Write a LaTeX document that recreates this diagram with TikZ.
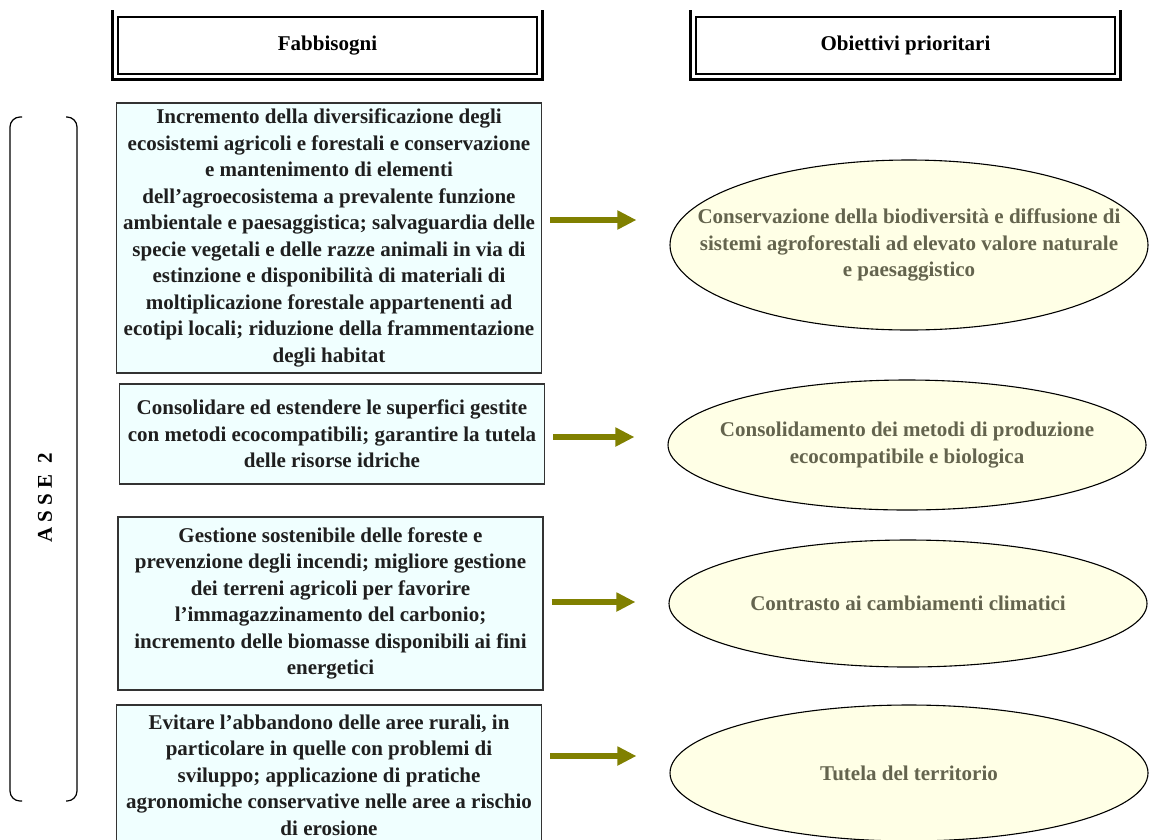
\documentclass[tikz,border=0pt]{standalone}
\usepackage{fontspec}
\setmainfont{Liberation Serif}
\usepackage{tikz}
\usetikzlibrary{shapes.geometric,arrows.meta,positioning}

\definecolor{boxfill}{RGB}{240,255,255}
\definecolor{ellfill}{RGB}{255,255,230}
\definecolor{ellfont}{RGB}{100,100,78}
\definecolor{arrolive}{RGB}{128,128,0}

\begin{document}
\begin{tikzpicture}[x=1pt, y=-1pt,
        font=\bfseries\fontsize{21}{26.5}\selectfont,
        header/.style={draw, line width=1.3pt, inner sep=0pt, minimum width=419pt, minimum height=57pt},
        need/.style={draw=black!80, line width=1.1pt, fill=boxfill, text=black!88, align=center,
                     inner sep=0pt, minimum width=425pt},
        goal/.style={ellipse, draw, line width=1.1pt, fill=ellfill, text=ellfont, align=center,
                     inner xsep=-60pt, inner ysep=0pt, minimum width=478pt},
        arr/.style={arrolive, line width=6.5pt, -{Triangle[length=19pt,width=18pt]},
                    shorten <=8pt, shorten >=33pt}]

            \useasboundingbox (0,0) rectangle (1155,839);

            % headers
            \node[header] (hf) at (327.5,45.5) {Fabbisogni};
            \node[header] (ho) at (905.5,45.5) {Obiettivi prioritari};
            \foreach \h in {hf, ho}
                \draw[line width=3pt] ([shift={(-4.5pt,6pt)}]\h.north west) -- ([shift={(-4.5pt,-4.5pt)}]\h.south west)
                    -- ([shift={(4.5pt,-4.5pt)}]\h.south east) -- ([shift={(4.5pt,6pt)}]\h.north east);

            % fabbisogni
            \node[need, minimum height=270pt] (f1) at (329,238) {Incremento della diversificazione degli\\
                ecosistemi agricoli e forestali e conservazione\\ e mantenimento di elementi\\
                dell'agroecosistema a prevalente funzione\\ ambientale e paesaggistica; salvaguardia delle\\
                specie vegetali e delle razze animali in via di\\ estinzione e disponibilità di materiali di\\
                moltiplicazione forestale appartenenti ad\\ ecotipi locali; riduzione della frammentazione\\
                degli habitat};
            \node[need, minimum height=100pt] (f2) at (332,434) {Consolidare ed estendere le superfici gestite\\
                con metodi ecocompatibili; garantire la tutela\\ delle risorse idriche};
            \node[need, minimum height=173pt] (f3) at (330.5,603.5) {Gestione sostenibile delle foreste e\\
                prevenzione degli incendi; migliore gestione\\ dei terreni agricoli per favorire\\
                l'immagazzinamento del carbonio;\\ incremento delle biomasse disponibili ai fini\\ energetici};
            \node[need, minimum height=140pt] (f4) at (329,775) {Evitare l'abbandono delle aree rurali, in\\
                particolare in quelle con problemi di\\ sviluppo; applicazione di pratiche\\
                agronomiche conservative nelle aree a rischio\\ di erosione};

            % obiettivi
            \node[goal, minimum height=170pt] (o1) at (909,245) {Conservazione della biodiversità e diffusione di\\
                sistemi agroforestali ad elevato valore naturale\\ e paesaggistico};
            \node[goal, minimum height=130pt] (o2) at (907,445) {Consolidamento dei metodi di produzione\\
                ecocompatibile e biologica};
            \node[goal, minimum height=127pt] (o3) at (908,603.5) {Contrasto ai cambiamenti climatici};
            \node[goal, minimum height=136pt] (o4) at (909,773) {Tutela del territorio};

            % asse bracket
            \draw[line width=1.2pt, rounded corners=10pt] (22,117) -- (10,117) -- (10,801) -- (22,801);
            \draw[line width=1.2pt, rounded corners=10pt] (66,117) -- (77,117) -- (77,801) -- (66,801);
            \node[rotate=90] (asse) at (45,498) {A S S E \ 2};

            \coordinate (y1) at (0,220);
            \coordinate (y2) at (0,437);
            \coordinate (y3) at (0,602);
            \coordinate (y4) at (0,756);

            \draw[arr] (f1.east |- y1) -- (o1.west |- y1);
            \draw[arr] (f2.east |- y2) -- (o2.west |- y2);
            \draw[arr] (f3.east |- y3) -- (o3.west |- y3);
            \draw[arr] (f4.east |- y4) -- (o4.west |- y4);

        \end{tikzpicture}
\end{document}
